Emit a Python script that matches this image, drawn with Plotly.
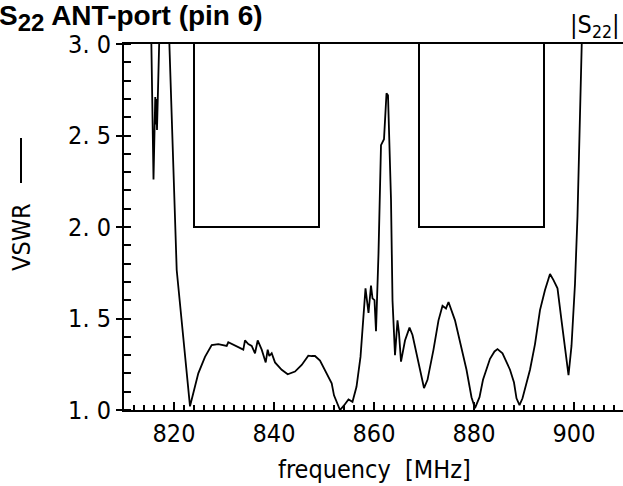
import plotly.graph_objects as go

# measured VSWR curve (frequency in MHz)
freq = [812, 815.3, 815.9, 816.25, 816.4, 816.5, 816.6, 817.07, 817.4, 818.6,
        819.06, 820.0, 820.54, 823.2, 824.86, 826.2, 827.54, 828.86, 830.54, 830.86,
        831.54, 832.54, 833.86, 834.2, 834.86, 835.54, 836.2, 836.74, 837.54, 838.34,
        838.74, 839.06, 839.54, 840.2, 841.54, 842.74, 844.2, 845.54, 846.86, 847.54,
        848.2, 849.2, 850.54, 851.54, 852.0, 853.2, 854.0, 854.9, 855.7, 856.5,
        857.3, 858.3, 858.9, 859.4, 859.7, 860.1, 860.4, 860.9, 861.4, 862.0,
        862.5, 862.8, 863.4, 863.7, 864.2, 864.7, 865.0, 865.4, 866.2, 867.1,
        867.7, 868.9, 870.0, 870.7, 871.9, 872.9, 873.7, 874.4, 874.9, 876.2,
        877.3, 878.5, 879.5, 880.2, 881.1, 881.8, 883.2, 884.1, 884.7, 885.7,
        887.2, 888.0, 888.5, 889.1, 889.7, 891.2, 892.2, 893.2, 894.2, 895.2,
        895.9, 896.7, 897.5, 898.3, 898.9, 899.5, 900.2, 900.7, 901.5, 902.0, 909.8]
vswr = [4.0, 3.3, 2.26, 2.71, 2.56, 2.70, 2.53, 3.0, 3.4, 3.4,
        3.0, 2.15, 1.765, 1.02, 1.20, 1.29, 1.355, 1.36, 1.35, 1.37,
        1.36, 1.346, 1.33, 1.38, 1.36, 1.35, 1.31, 1.38, 1.33, 1.26,
        1.33, 1.295, 1.31, 1.26, 1.22, 1.195, 1.21, 1.246, 1.297, 1.295,
        1.295, 1.27, 1.20, 1.146, 1.08, 1.0, 1.025, 1.058, 1.045, 1.127,
        1.29, 1.665, 1.53, 1.68, 1.61, 1.60, 1.43, 1.856, 2.447, 2.48,
        2.73, 2.72, 2.15, 1.60, 1.30, 1.49, 1.42, 1.264, 1.38, 1.45,
        1.41, 1.255, 1.12, 1.165, 1.33, 1.49, 1.57, 1.555, 1.59, 1.49,
        1.36, 1.22, 1.07, 1.01, 1.07, 1.165, 1.28, 1.32, 1.333, 1.31,
        1.22, 1.15, 1.064, 1.027, 1.064, 1.22, 1.36, 1.546, 1.656, 1.743,
        1.71, 1.665, 1.49, 1.33, 1.19, 1.35, 1.69, 2.06, 3.0, 3.5, 4.5]

# specification masks (Tx and Rx bands)
mask1_x = [824, 824, 849, 849]
mask1_y = [3.0, 2.0, 2.0, 3.0]
mask2_x = [869, 869, 894, 894]
mask2_y = [3.0, 2.0, 2.0, 3.0]

y_tickvals = [1.0, 1.5, 2.0, 2.5, 3.0]
y_ticktext = ["1. 0", "1. 5", "2. 0", "2. 5", "3. 0"]
x_tickvals = [820, 840, 860, 880, 900]
x_ticktext = ["820", "840", "860", "880", "900"]

FONT = "DejaVu Sans Condensed, Liberation Sans Narrow, DejaVu Sans, sans-serif"
TICKC = "black"

W, H = 623, 486
L, R, T, B = 124, 0, 44, 76
pw, ph = W - L - R, H - T - B

def px(x):
    return (x - L) / pw

def py(y):
    return (H - B - y) / ph

fig = go.Figure()
fig.add_trace(go.Scatter(x=mask1_x, y=mask1_y, mode="lines",
                         line=dict(color="black", width=2), showlegend=False))
fig.add_trace(go.Scatter(x=mask2_x, y=mask2_y, mode="lines",
                         line=dict(color="black", width=2), showlegend=False))
fig.add_trace(go.Scatter(x=freq, y=vswr, mode="lines",
                         line=dict(color="black", width=1.8), showlegend=False))

fig.update_layout(
    width=W, height=H,
    margin=dict(l=L, r=R, t=T, b=B),
    paper_bgcolor="white", plot_bgcolor="white",
    font=dict(family=FONT, color="black", size=25),
    xaxis=dict(range=[810, 909.8], showgrid=False, zeroline=False,
               showline=True, linecolor="black", linewidth=2, mirror=True,
               tickmode="array", tickvals=x_tickvals, ticktext=x_ticktext,
               ticks="inside", ticklen=8, tickwidth=2, tickcolor=TICKC,
               minor=dict(tickmode="linear", tick0=810, dtick=2, ticks="inside",
                          ticklen=5, tickwidth=1.5, tickcolor=TICKC, showgrid=False),
               tickfont=dict(family=FONT, size=25, color="black")),
    yaxis=dict(range=[1.0, 3.0], showgrid=False, zeroline=False,
               showline=True, linecolor="black", linewidth=2,
               tickmode="array", tickvals=y_tickvals, ticktext=y_ticktext,
               ticks="outside", ticklen=6, tickwidth=2, tickcolor=TICKC,
               minor=dict(tickmode="linear", tick0=1.0, dtick=0.1, ticks="inside",
                          ticklen=7, tickwidth=1.5, tickcolor=TICKC, showgrid=False),
               tickfont=dict(family=FONT, size=25, color="black")),
)

annotations = [
    dict(text="<b>S<sub><span style='font-size:24px'>22</span></sub> ANT-port (pin 6)</b>",
         xref="paper", yref="paper",
         x=px(-3), y=py(-2), xanchor="left", yanchor="top", showarrow=False,
         font=dict(family="Liberation Sans, Arial, sans-serif", size=28, color="black")),
    dict(text="|S<sub>22</sub>|", xref="paper", yref="paper",
         x=px(622), y=py(8), xanchor="right", yanchor="top", showarrow=False,
         font=dict(family=FONT, size=25, color="black")),
    dict(text="VSWR", xref="paper", yref="paper", textangle=-90,
         x=px(21), y=py(237), xanchor="center", yanchor="middle", showarrow=False,
         font=dict(family=FONT, size=25, color="black")),
    dict(text="frequency\u00a0\u00a0[MHz]", xref="paper", yref="paper",
         x=px(374), y=py(469), xanchor="center", yanchor="middle", showarrow=False,
         font=dict(family=FONT, size=25, color="black")),
]
fig.update_layout(annotations=annotations)
fig.add_shape(type="line", xref="paper", yref="paper",
              x0=px(21), x1=px(21), y0=py(183), y1=py(138),
              line=dict(color="black", width=2))

fig.write_html("out.html")
